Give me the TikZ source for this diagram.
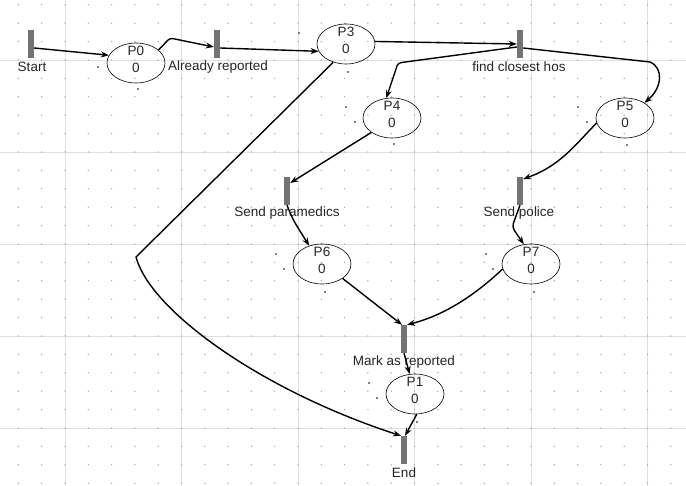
\documentclass[tikz,border=0pt]{standalone}
\usepackage{fontspec}
\setmainfont{Liberation Sans}
\usetikzlibrary{shapes.geometric,arrows.meta}
\begin{document}
\begin{tikzpicture}[x=1pt,y=-1pt,
  trans/.style={draw=none,fill=black!55,minimum width=6pt,minimum height=28pt,inner sep=0pt},
  place/.style={draw=black,ellipse,line width=0.6pt,minimum width=58pt,minimum height=40pt,inner sep=0pt},
  lbl/.style={inner sep=0pt,font=\fontsize{13.5}{15}\selectfont,text=black!85},
  arc/.style={draw=black,line width=1.4pt,-{Stealth[length=8pt,width=6pt]}},
  tinydot/.style={fill=black,inner sep=0pt,minimum size=1.6pt,circle}
]
\useasboundingbox (0,0) rectangle (686,486);
\fill[white] (0,0) rectangle (686,486);
% grid lines
\foreach \x in {65,181.5,298,414.5,531,647.5} \draw[black!12,line width=0.6pt] (\x,0) -- (\x,486);
\foreach \y in {60,152,244,336,428} \draw[black!12,line width=0.6pt] (0,\y) -- (686,\y);
% grid dots
\foreach \i in {0,...,29} \foreach \j in {0,...,26}
  \fill[black!35] (18.4+23.3*\i,4.8+18.4*\j) circle (0.75pt);

% transitions
\node[trans] (tStart) at (31,44) {};
\node[trans] (tAR) at (217,44) {};
\node[trans] (tFind) at (520,44) {};
\node[trans] (tSP) at (287,191) {};
\node[trans] (tSPol) at (520,191) {};
\node[trans] (tMark) at (404,339) {};
\node[trans] (tEnd) at (404,450) {};
\node[lbl] (lStart) at (32,67) {Start};
\node[lbl] (lAR) at (218,67) {Already reported};
\node[lbl] (lFind) at (519,67) {find closest hos};
\node[lbl] (lSP) at (287,213) {Send paramedics};
\node[lbl] (lSPol) at (519,213) {Send police};
\node[lbl] (lMark) at (404,362) {Mark as reported};
\node[lbl] (lEnd) at (404,473) {End};

% places
\foreach \n/\x/\y in {0/136/63,3/346/44,4/392/118,5/625/118,6/322/264,7/531/264,1/415/394}{
  \node[place] (p\n) at (\x,\y) {};
  \node[lbl] (pn\n) at (\x,\y-12.5) {P\n};
  \node[lbl] (pv\n) at (\x,\y+5) {0};
}

% small marks
\foreach \x/\y [count=\k] in {98/67,138/89,299/33,348/72,346/107,355/122,394/144,578/107,587/122,627/145,276/254,284/269,325/292,486/254,493/269,534/292,369/383,377/398,417/422}
  \node[tinydot] (m\k) at (\x,\y) {};

% arcs
\draw[arc] ([yshift=-4pt]tStart.east) -- (p0.164);
\draw[arc,rounded corners=3pt] (p0.30) -- (170,38) -- ([yshift=-3pt]tAR.west);
\draw[arc] ([yshift=-4pt]tAR.east) -- (p3.195);
\draw[arc] (p3.5) -- (tFind.west);
\draw[arc,rounded corners=3pt] ([yshift=-3pt]tFind.west) -- (398,63) -- (p4.106);
\draw[arc] ([yshift=-4pt]tFind.east) -- (650,62) .. controls (664,68) and (662,88) .. (p5.38);
\draw[arc] (p4.215) -- ([yshift=8pt]tSP.east);
\draw[arc] (p5.190) .. controls (575,145) and (560,166) .. ([yshift=12pt]tSPol.east);
\draw[arc] (tSP.south) .. controls (293,220) .. (p6.125);
\draw[arc,rounded corners=4pt] (tSPol.south) -- (512,227) -- (p7.110);
\draw[arc] (p6.-35) -- ([xshift=-2pt]tMark.north);
\draw[arc] (p7.190) .. controls (475,295) and (445,315) .. ([xshift=3pt]tMark.north);
\draw[arc] (tMark.south) -- (p1.105);
\draw[arc] (p1.-85) -- ([xshift=1pt]tEnd.north);
\draw[arc] (p3.235) -- (136,257) .. controls (150,310) and (260,390) .. ([xshift=-3pt]tEnd.north);
\end{tikzpicture}
\end{document}
